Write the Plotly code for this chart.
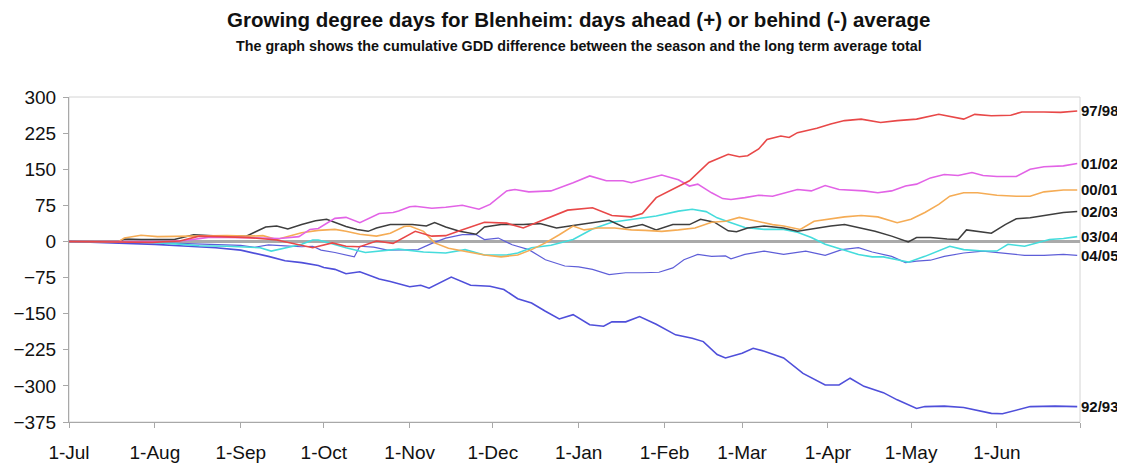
import plotly.graph_objects as go

# ---- axis data ----
month_ticks = [0, 31, 62, 92, 123, 153, 184, 215, 243, 274, 304, 335, 365]
month_labels = ["1-Jul", "1-Aug", "1-Sep", "1-Oct", "1-Nov", "1-Dec", "1-Jan",
                "1-Feb", "1-Mar", "1-Apr", "1-May", "1-Jun", ""]
y_ticks = [300, 225, 150, 75, 0, -75, -150, -225, -300, -375]

# ---- series data: day of season (0 = 1 July) and cumulative GDD difference ----
d_9293 = [0, 17, 31, 43, 53, 62, 67, 72, 78, 84, 90, 92, 96, 100, 105, 108, 112, 116, 120, 123,
          127, 130, 138, 145, 152, 157, 162, 167, 172, 177, 182, 188, 193, 196, 201, 206, 212,
          219, 225, 229, 234, 237, 243, 247, 251, 258, 265, 273, 278, 282, 287, 294, 299, 306,
          309, 316, 323, 333, 337, 342, 347, 356, 364]
v_9293 = [0, -3, -6, -10, -13, -18, -24, -31, -40, -44, -50, -54, -58, -67, -63, -69, -78, -83,
          -90, -94, -91, -97, -74, -91, -93, -100, -119, -128, -145, -161, -152, -173, -176,
          -167, -167, -156, -172, -194, -201, -208, -235, -242, -232, -222, -228, -242, -274,
          -298, -298, -284, -301, -314, -329, -347, -343, -342, -345, -357, -358, -351, -343,
          -342, -343]

d_9798 = [0, 15, 30, 40, 47, 55, 65, 75, 83, 88, 95, 100, 105, 111, 117, 122, 125, 131, 136,
          141, 150, 158, 164, 170, 174, 180, 189, 196, 203, 207, 212, 218, 224, 231, 235, 238,
          242, 245, 249, 252, 257, 260, 263, 270, 275, 280, 286, 293, 299, 306, 314, 318, 323,
          327, 333, 340, 344, 352, 358, 364]
v_9798 = [0, -1, -2, 1, 11, 10, 8, 3, -6, -13, -3, -10, -11, 1, -4, 11, 21, 11, 12, 22, 40, 38,
          28, 42, 51, 65, 70, 54, 51, 58, 91, 108, 126, 164, 174, 181, 176, 178, 192, 212, 219,
          216, 226, 235, 244, 251, 254, 247, 251, 254, 264, 260, 254, 264, 261, 262, 269, 269,
          268, 271]

d_0102 = [0, 20, 35, 42, 51, 64, 76, 83, 87, 90, 96, 100, 105, 112, 117, 119, 123, 125, 131,
          136, 142, 148, 152, 158, 161, 166, 174, 182, 188, 194, 200, 203, 208, 214, 220, 224,
          227, 232, 236, 239, 244, 249, 254, 258, 263, 268, 273, 278, 282, 287, 292, 297, 302,
          306, 311, 316, 321, 326, 330, 335, 342, 347, 352, 359, 364]
v_0102 = [0, 0, 0, 2, 9, 8, 6, 10, 25, 27, 48, 50, 39, 58, 60, 63, 72, 73, 69, 71, 75, 67, 77,
          105, 108, 103, 105, 122, 136, 126, 126, 122, 130, 138, 128, 115, 119, 101, 89, 87, 91,
          96, 94, 100, 108, 105, 116, 108, 107, 105, 101, 105, 115, 119, 132, 139, 137, 143, 137,
          135, 135, 150, 155, 157, 162]

d_0001 = [0, 18, 20, 26, 32, 40, 50, 57, 64, 70, 75, 80, 84, 90, 96, 100, 105, 111, 116, 121,
          123, 128, 132, 137, 143, 150, 156, 162, 167, 172, 177, 182, 186, 191, 197, 203, 208,
          214, 220, 226, 232, 237, 242, 248, 254, 258, 264, 269, 275, 280, 286, 292, 299, 304,
          309, 314, 318, 323, 328, 335, 342, 347, 352, 359, 364]
v_0001 = [0, 0, 7, 13, 10, 11, 12, 12, 11, 12, 4, 11, 18, 23, 25, 21, 15, 11, 17, 31, 32, 21,
          -3, -14, -21, -28, -32, -28, -17, -3, 14, 32, 24, 28, 28, 24, 23, 21, 24, 28, 40, 42,
          50, 42, 35, 32, 25, 42, 47, 51, 54, 51, 39, 46, 60, 77, 94, 101, 101, 96, 94, 94, 103,
          107, 107]

d_0203 = [0, 18, 20, 26, 38, 45, 52, 62, 64, 67, 71, 75, 79, 84, 89, 93, 96, 100, 104, 108, 111,
          116, 120, 124, 129, 132, 136, 141, 147, 150, 156, 164, 170, 176, 182, 189, 195, 201,
          207, 212, 218, 224, 228, 233, 238, 241, 245, 251, 258, 263, 268, 275, 280, 285, 291,
          297, 303, 306, 311, 317, 321, 324, 330, 333, 338, 342, 347, 352, 359, 364]
v_0203 = [0, 0, 5, 4, 4, 14, 12, 11, 11, 19, 30, 32, 26, 35, 43, 46, 40, 31, 25, 21, 28, 35, 35,
          35, 32, 39, 30, 21, 15, 30, 35, 35, 37, 28, 33, 39, 44, 28, 35, 24, 35, 35, 46, 40, 22,
          20, 28, 32, 28, 21, 26, 32, 35, 28, 21, 11, -1, 8, 8, 5, 4, 24, 19, 17, 35, 47, 49, 54,
          60, 62]

d_0304 = [0, 30, 41, 47, 57, 64, 69, 73, 78, 84, 88, 90, 94, 100, 107, 113, 119, 128, 136, 143,
          150, 158, 162, 167, 174, 182, 189, 196, 203, 212, 220, 225, 230, 234, 239, 244, 251,
          258, 263, 268, 273, 279, 285, 290, 294, 299, 303, 309, 314, 318, 323, 330, 335, 339,
          345, 350, 354, 359, 364]
v_0304 = [0, -2, -6, -9, -10, -11, -13, -20, -14, -6, 3, 3, -3, -13, -23, -19, -16, -22, -24,
          -17, -28, -28, -24, -13, -8, 4, 26, 40, 46, 53, 63, 67, 62, 49, 39, 29, 25, 25, 19, 8,
          -6, -17, -27, -32, -32, -38, -43, -31, -20, -10, -17, -20, -20, -6, -10, -3, 4, 6, 10]

d_0405 = [0, 20, 40, 55, 62, 67, 72, 78, 84, 88, 91, 96, 100, 103, 105, 110, 115, 120, 126, 131,
          136, 142, 147, 150, 155, 160, 166, 172, 179, 184, 189, 195, 201, 207, 213, 218, 222,
          227, 232, 237, 239, 244, 251, 258, 266, 273, 279, 285, 290, 297, 302, 306, 311, 316,
          323, 330, 338, 345, 352, 359, 364]
v_0405 = [0, -1, -4, -6, -8, -12, -7, -9, -11, -10, -18, -23, -28, -32, -10, -12, -18, -18, -17,
          -4, 7, 14, 14, 4, 7, -7, -17, -38, -51, -53, -58, -69, -65, -65, -64, -55, -38, -27,
          -31, -30, -36, -27, -20, -27, -20, -29, -17, -13, -22, -31, -44, -41, -39, -31, -24,
          -20, -25, -29, -29, -27, -29]

series_names = ["92/93", "04/05", "03/04", "02/03", "00/01", "01/02", "97/98"]
series_days = [d_9293, d_0405, d_0304, d_0203, d_0001, d_0102, d_9798]
series_vals = [v_9293, v_0405, v_0304, v_0203, v_0001, v_0102, v_9798]
series_colors = ["#4F4FDA", "#5E5ED8", "#45DCDC", "#3E3E3E", "#F5AC55", "#E263E6", "#E84848"]
series_widths = [1.6, 1.2, 1.6, 1.5, 1.6, 1.6, 1.6]

FONT = "Liberation Sans, Arial, sans-serif"

fig = go.Figure()
for name, dd, vv, col, w in zip(series_names, series_days, series_vals, series_colors, series_widths):
    fig.add_trace(go.Scatter(x=dd, y=vv, mode="lines", name=name,
                             line=dict(color=col, width=w), hoverinfo="skip"))
    fig.add_annotation(x=dd[-1], y=vv[-1], xref="x", yref="y", text="<b>%s</b>" % name,
                       showarrow=False, xanchor="left", yanchor="middle", xshift=2,
                       font=dict(family=FONT, size=15, color="#111111"))

fig.add_annotation(x=0.504, y=1.237, xref="paper", yref="paper", showarrow=False,
                   text="<b>Growing degree days for Blenheim: days ahead (+) or behind (-) average</b>",
                   font=dict(family=FONT, size=20.5, color="#111111"), yanchor="middle")
fig.add_annotation(x=0.504, y=1.158, xref="paper", yref="paper", showarrow=False,
                   text="<b>The graph shows the cumulative GDD difference between the season and the long term average total</b>",
                   font=dict(family=FONT, size=14.3, color="#111111"), yanchor="middle")

fig.add_shape(type="rect", xref="paper", yref="paper", x0=0, x1=1, y0=0, y1=1,
              line=dict(color="#D4D4D4", width=1), layer="below")

# the page body has an 8px margin, so the figure is sized/offset to compensate
fig.update_layout(
    width=1117, height=457,
    margin=dict(l=61, r=45, t=89, b=43, pad=0),
    paper_bgcolor="white", plot_bgcolor="white",
    showlegend=False,
    font=dict(family=FONT, size=19, color="#111111"),
)
fig.update_xaxes(range=[0, 365], tickmode="array", tickvals=month_ticks, ticktext=month_labels,
                 showgrid=False, zeroline=False, showline=True, linecolor="#A8A8A8", linewidth=1,
                 ticks="outside", ticklen=5, tickcolor="#A8A8A8", ticklabelstandoff=8,
                 automargin=False,
                 tickfont=dict(family=FONT, size=19, color="#111111"))
fig.update_yaxes(range=[-375, 300], tickmode="array", tickvals=y_ticks,
                 showgrid=False, zeroline=True, zerolinecolor="#AAAAAA", zerolinewidth=2.5,
                 showline=True, linecolor="#A8A8A8", linewidth=1,
                 ticks="outside", ticklen=5, tickcolor="#A8A8A8", ticklabelstandoff=3,
                 automargin=False,
                 tickfont=dict(family=FONT, size=19, color="#111111"))

fig.write_html("out.html")
